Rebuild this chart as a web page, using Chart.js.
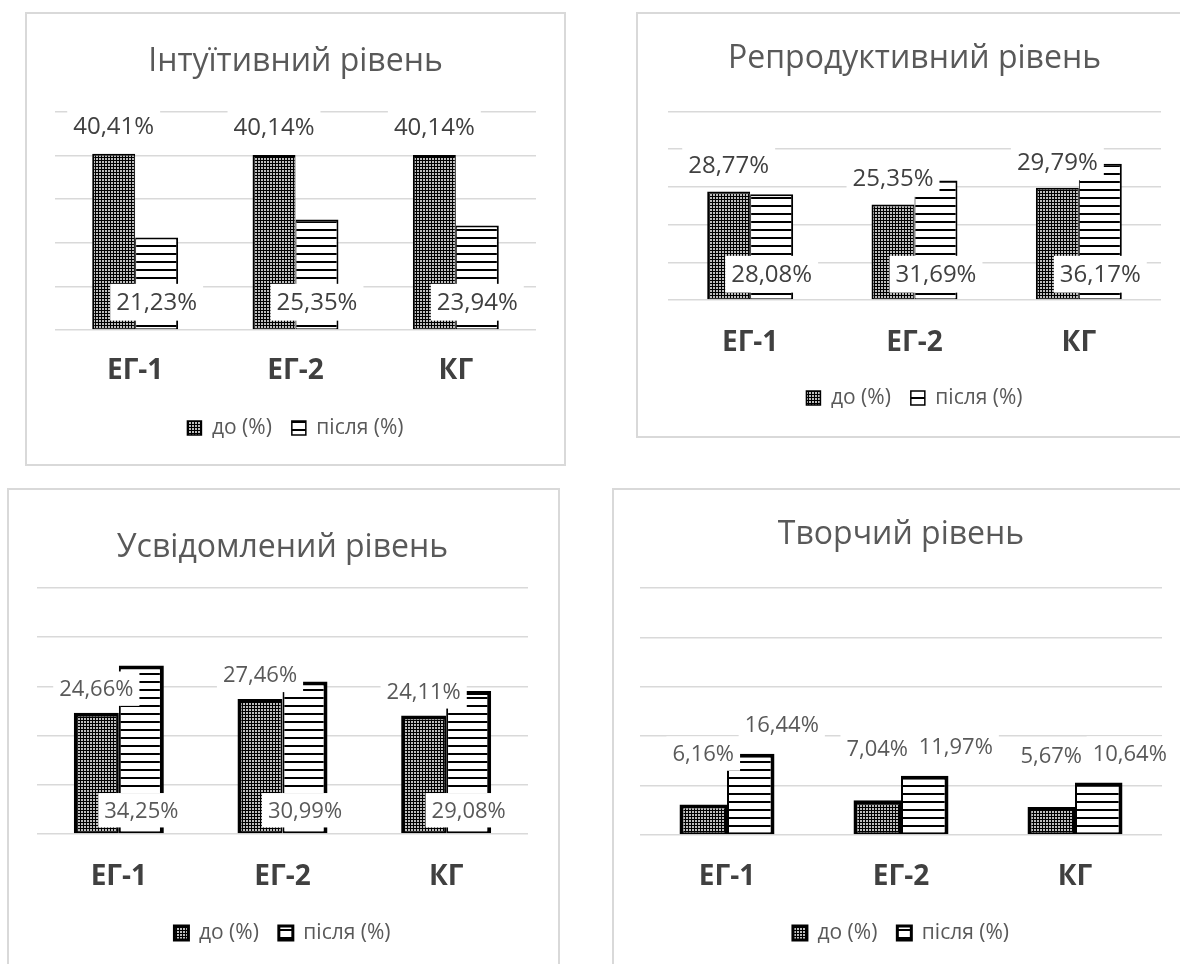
<!DOCTYPE html>
<html>
<head>
<meta charset="utf-8">
<script src="https://cdn.jsdelivr.net/npm/chart.js@4.4.1/dist/chart.umd.min.js"></script>
<style>
  html, body { margin: 0; padding: 0; background: #fff; overflow: hidden; width: 1180px; height: 964px; }
  .frame { position: absolute; border: 2px solid #d9d9d9; box-sizing: border-box; }
  canvas { position: absolute; }
</style>
</head>
<body>
<div class="frame" style="left:25px;top:12px;width:541px;height:454px"></div>
<div class="frame" style="left:636px;top:12px;width:600px;height:426px"></div>
<div class="frame" style="left:7px;top:488px;width:553px;height:600px"></div>
<div class="frame" style="left:612px;top:488px;width:600px;height:600px"></div>

<canvas id="c1" width="538" height="451" style="left:26px;top:13px"></canvas>
<canvas id="c2" width="560" height="423" style="left:637px;top:13px"></canvas>
<canvas id="c3" width="550" height="490" style="left:8px;top:489px"></canvas>
<canvas id="c4" width="580" height="490" style="left:613px;top:489px"></canvas>

<script>
// data
const categories = ['ЕГ-1', 'ЕГ-2', 'КГ'];
const seriesNames = ['до (%)', 'після (%)'];

const intuitiveBefore = [40.41, 40.14, 40.14];
const intuitiveAfter = [21.23, 25.35, 23.94];

const reproductiveBefore = [28.77, 25.35, 29.79];
const reproductiveAfter = [28.08, 31.69, 36.17];

const consciousBefore = [24.66, 27.46, 24.11];
const consciousAfter = [34.25, 30.99, 29.08];

const creativeBefore = [6.16, 7.04, 5.67];
const creativeAfter = [16.44, 11.97, 10.64];

const yMin = 0, yMax = 50, yStep = 10;

const FONT = 'Open Sans';

// dark dotted fill for "до"
function dotPattern() {
  const c = document.createElement('canvas');
  c.width = 3; c.height = 3;
  const g = c.getContext('2d');
  g.fillStyle = '#000';
  g.fillRect(0, 0, 3, 3);
  g.fillStyle = '#bdbdbd';
  g.fillRect(1, 1, 2, 2);
  return g.createPattern(c, 'repeat');
}

// horizontal stripes for "після"
function stripePattern() {
  const c = document.createElement('canvas');
  c.width = 8; c.height = 8;
  const g = c.getContext('2d');
  g.fillStyle = '#fff';
  g.fillRect(0, 0, 8, 8);
  g.fillStyle = '#000';
  g.fillRect(0, 0, 8, 2);
  return g.createPattern(c, 'repeat');
}

// value labels with a white box, like the Excel ones
const barLabels = {
  id: 'barLabels',
  afterDatasetsDraw(chart, args, opts) {
    const ctx = chart.ctx;
    ctx.save();
    ctx.font = opts.size + 'px "' + FONT + '"';
    ctx.textAlign = 'center';
    ctx.textBaseline = 'middle';
    chart.data.datasets.forEach((ds, i) => {
      const place = opts.place[i];
      chart.getDatasetMeta(i).data.forEach((bar, j) => {
        const text = ds.data[j].toFixed(2).replace('.', ',') + '%';
        const w = ctx.measureText(text).width + 12;
        const h = opts.size * 1.2 + 8;
        const x = bar.x + place.dx;
        const y = (place.at === 'base' ? bar.base : bar.y) - place.dy;
        ctx.fillStyle = '#fff';
        ctx.fillRect(x - w / 2, y - h / 2, w, h);
        ctx.fillStyle = opts.color;
        ctx.fillText(text, x, y + 1);
      });
    });
    ctx.restore();
  }
};

function drawLevelChart(id, title, before, after, lay) {
  const thin = lay.bw;
  const half = lay.bw / 2;
  return new Chart(document.getElementById(id), {
    type: 'bar',
    data: {
      labels: categories,
      datasets: [
        {
          label: seriesNames[0],
          data: before,
          backgroundColor: dotPattern(),
          borderColor: '#000',
          borderWidth: { left: thin, top: thin, right: half, bottom: half },
          borderSkipped: false,
          inflateAmount: 0
        },
        {
          label: seriesNames[1],
          data: after,
          backgroundColor: stripePattern(),
          borderColor: '#000',
          borderWidth: { left: half, top: thin, right: thin, bottom: half },
          borderSkipped: false,
          inflateAmount: 0
        }
      ]
    },
    options: {
      responsive: false,
      animation: false,
      devicePixelRatio: 1,
      categoryPercentage: lay.cat,
      barPercentage: 1,
      layout: { padding: { left: lay.padL, right: lay.padR, top: 0, bottom: lay.padB } },
      scales: {
        x: {
          grid: { display: false, drawTicks: false },
          border: { display: false },
          ticks: {
            color: '#404040',
            padding: lay.tickPad,
            font: { family: FONT, size: 28, weight: 'bold', lineHeight: 1.2 }
          },
          // fixed band between plot and legend
          afterFit: s => { s.height = lay.axisH; }
        },
        y: {
          min: yMin,
          max: yMax,
          ticks: { display: false, stepSize: yStep },
          grid: { color: '#d9d9d9', lineWidth: 1.5, drawTicks: false },
          border: { display: false }
        }
      },
      plugins: {
        title: {
          display: true,
          text: title,
          color: '#595959',
          font: { family: FONT, size: 32, weight: 'normal', lineHeight: 1.2 },
          padding: { top: lay.titleTop, bottom: lay.titleBottom }
        },
        legend: {
          position: 'bottom',
          labels: {
            color: '#595959',
            font: { family: FONT, size: 21 },
            boxWidth: 14,
            boxHeight: 14,
            padding: 20
          }
        },
        tooltip: { enabled: false },
        barLabels: { place: lay.place, size: lay.labelSize, color: lay.labelColor }
      }
    },
    plugins: [barLabels]
  });
}

drawLevelChart('c1', 'Інтуїтивний рівень', intuitiveBefore, intuitiveAfter, {
  bw: 2, cat: 0.536, padL: 29, padR: 28, padB: 15.5,
  titleTop: 29.3, titleBottom: 31.3, tickPad: 24.2, axisH: 67.5,
  labelSize: 24, labelColor: '#404040',
  place: [{ at: 'end', dy: 28, dx: 0 }, { at: 'base', dy: 27, dx: 0 }]
});

drawLevelChart('c2', 'Репродуктивний рівень', reproductiveBefore, reproductiveAfter, {
  bw: 2, cat: 0.523, padL: 31, padR: 36, padB: 17.5,
  titleTop: 26.8, titleBottom: 33.3, tickPad: 26.2, axisH: 67.5,
  labelSize: 24, labelColor: '#404040',
  place: [{ at: 'end', dy: 26, dx: 0 }, { at: 'base', dy: 25, dx: 0 }]
});

drawLevelChart('c3', 'Усвідомлений рівень', consciousBefore, consciousAfter, {
  bw: 4, cat: 0.55, padL: 29, padR: 30, padB: 25.5,
  titleTop: 39.8, titleBottom: 20.8, tickPad: 26.2, axisH: 68.5,
  labelSize: 22, labelColor: '#595959',
  place: [{ at: 'end', dy: 24, dx: 0 }, { at: 'base', dy: 23, dx: 0 }]
});

drawLevelChart('c4', 'Творчий рівень', creativeBefore, creativeAfter, {
  bw: 4, cat: 0.546, padL: 27, padR: 31, padB: 25.5,
  titleTop: 26.8, titleBottom: 33.8, tickPad: 25.2, axisH: 67.5,
  labelSize: 22, labelColor: '#595959',
  place: [{ at: 'end', dy: 51, dx: 0 }, { at: 'end', dy: 29, dx: 31 }]
});
</script>
</body>
</html>
